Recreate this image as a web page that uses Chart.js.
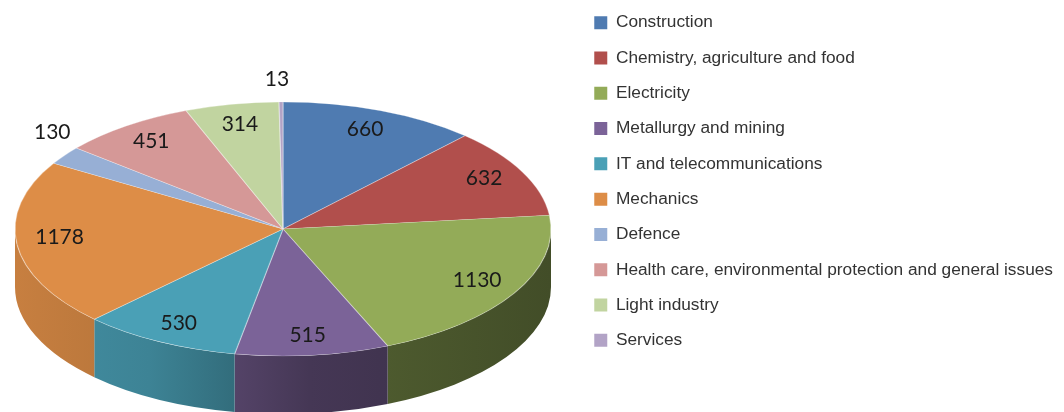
<!DOCTYPE html>
<html>
<head>
<meta charset="utf-8">
<script src="https://cdn.jsdelivr.net/npm/chart.js@4"></script>
<style>
html, body { margin: 0; padding: 0; background: #fff; }
#wrap { width: 1064px; height: 412px; position: relative; }
</style>
</head>
<body>
<div id="wrap"><canvas id="chart"></canvas></div>
<script>
const sectors = [
  'Construction',
  'Chemistry, agriculture and food',
  'Electricity',
  'Metallurgy and mining',
  'IT and telecommunications',
  'Mechanics',
  'Defence',
  'Health care, environmental protection and general issues',
  'Light industry',
  'Services'
];
const counts = [660, 632, 1130, 515, 530, 1178, 130, 451, 314, 13];
const colors = ['#4f7bb1', '#b14f4c', '#93ab58', '#7b6398', '#4aa0b6', '#dd8d47', '#97afd5', '#d59897', '#c1d4a0', '#b2a3c6'];

// where the tilted pie sits on the page
const view = { cx: 283, cy: 229, rx: 268, ry: 127, depth: 58 };

function shade(hex, f) {
  const r = Math.round(parseInt(hex.slice(1, 3), 16) * f);
  const g = Math.round(parseInt(hex.slice(3, 5), 16) * f);
  const b = Math.round(parseInt(hex.slice(5, 7), 16) * f);
  return `rgb(${r}, ${g}, ${b})`;
}

const pie3d = {
  id: 'pie3d',
  beforeDatasetsDraw(chart) {
    const ctx = chart.ctx;
    const arcs = chart.getDatasetMeta(0).data;
    // front wall of the disc
    arcs.forEach((arc, i) => {
      const lo = Math.max(arc.startAngle, 0);
      const hi = Math.min(arc.endAngle, Math.PI);
      if (lo >= hi) return;
      const grad = ctx.createLinearGradient(view.cx - view.rx, 0, view.cx + view.rx, 0);
      grad.addColorStop(0, shade(colors[i], 0.9));
      grad.addColorStop(0.25, shade(colors[i], 0.82));
      grad.addColorStop(0.55, shade(colors[i], 0.56));
      grad.addColorStop(1, shade(colors[i], 0.45));
      ctx.beginPath();
      ctx.ellipse(view.cx, view.cy, view.rx, view.ry, 0, lo, hi);
      ctx.ellipse(view.cx, view.cy + view.depth, view.rx, view.ry, 0, hi, lo, true);
      ctx.closePath();
      ctx.fillStyle = grad;
      ctx.fill();
    });
    // squash the round pie into the top face
    const a = arcs[0];
    ctx.save();
    ctx.translate(view.cx, view.cy);
    ctx.scale(view.rx / a.outerRadius, view.ry / a.outerRadius);
    ctx.translate(-a.x, -a.y);
  },
  afterDatasetsDraw(chart) {
    const ctx = chart.ctx;
    ctx.restore();
    const arcs = chart.getDatasetMeta(0).data;
    ctx.save();
    ctx.font = '21px Lato';
    ctx.fillStyle = '#1a1a1a';
    ctx.textAlign = 'center';
    ctx.textBaseline = 'middle';
    arcs.forEach((arc, i) => {
      const mid = (arc.startAngle + arc.endAngle) / 2;
      const c = Math.cos(mid), s = Math.sin(mid);
      let x, y;
      if (counts[i] < 200) {
        x = view.cx + view.rx * c + c * 10 - 4;
        y = view.cy + view.ry * s - 23;
      } else {
        x = view.cx + view.rx * 0.84 * c;
        y = view.cy + view.ry * 0.84 * s - 5 * (1 - Math.abs(s));
      }
      ctx.fillText(String(counts[i]), x, y);
    });
    ctx.restore();
  }
};

const chart = new Chart(document.getElementById('chart'), {
  type: 'pie',
  data: {
    labels: sectors,
    datasets: [{
      data: counts,
      backgroundColor: colors,
      borderColor: 'rgba(255, 255, 255, 0.35)',
      borderWidth: 1,
      clip: false
    }]
  },
  options: {
    responsive: true,
    maintainAspectRatio: false,
    animation: false,
    layout: { padding: { top: -4, right: 1 } },
    plugins: {
      tooltip: { enabled: false },
      legend: {
        position: 'right',
        align: 'start',
        labels: {
          boxWidth: 13,
          boxHeight: 13,
          padding: 18,
          color: '#333',
          font: { family: "'Liberation Sans', Arial, sans-serif", size: 17.3 },
          generateLabels: function(ch) {
            const items = Chart.overrides.pie.plugins.legend.labels.generateLabels(ch);
            items.forEach(it => { it.lineWidth = 0; it.strokeStyle = 'rgba(0,0,0,0)'; });
            return items;
          }
        }
      }
    }
  },
  plugins: [pie3d]
});
</script>
</body>
</html>
